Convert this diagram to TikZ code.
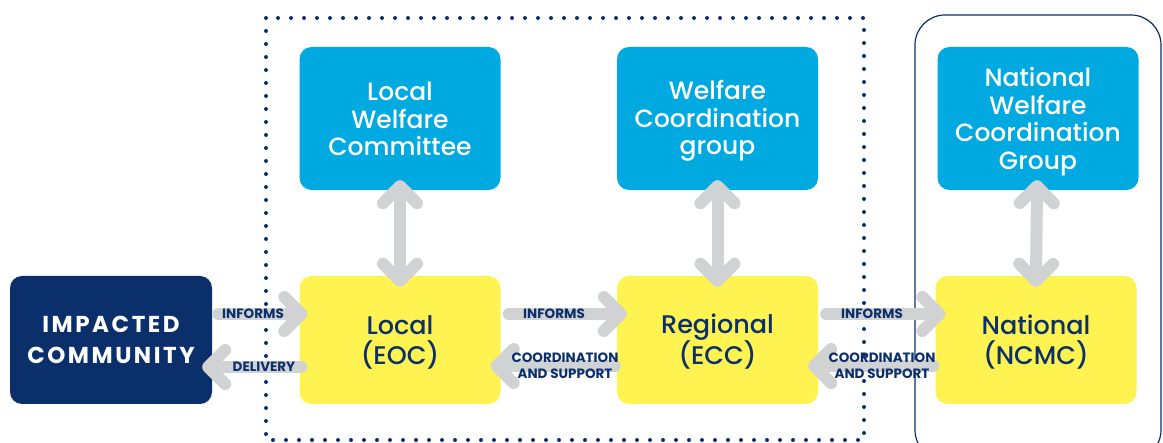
\documentclass[tikz,border=0pt]{standalone}
\usepackage{fontspec}
\setmainfont{Poppins}
\newfontfamily\medfont{Poppins}[UprightFont={* Medium}]
\newfontfamily\wideboldfont{Poppins}[UprightFont={* Bold}, LetterSpace=11]
\usetikzlibrary{arrows.meta,calc}
\definecolor{navy}{HTML}{0A2F6B}
\definecolor{skyb}{HTML}{00A9E0}
\definecolor{yel}{HTML}{FFF352}
\definecolor{gry}{HTML}{D1D2D4}
\tikzset{
  bluebox/.style={rectangle, rounded corners=12pt, fill=skyb, text=white, align=center,
     minimum width=201pt, minimum height=143pt, inner sep=0pt,
     font=\medfont\fontsize{25}{27.5}\selectfont, text height=80pt, text depth=5pt},
  yelbox/.style={rectangle, rounded corners=12pt, fill=yel, text=navy, align=center,
     minimum width=201pt, minimum height=128pt, inner sep=0pt,
     font=\medfont\fontsize{25.5}{30}\selectfont, text height=55pt, text depth=5pt},
  navybox/.style={rectangle, rounded corners=12pt, fill=navy, text=white, align=center,
     minimum width=202pt, minimum height=128pt, inner sep=0pt,
     font=\wideboldfont\fontsize{23}{31}\selectfont, text height=53pt, text depth=5pt},
  tipb/.tip={Straight Barb[length=17pt, width=34pt, round]},
  garrow/.style={draw=gry, line width=12pt, line cap=round, arrows={-tipb}},
  garrow2/.style={draw=gry, line width=12pt, line cap=round, arrows={tipb-tipb}},
  lbl/.style={text=navy, font=\bfseries\fontsize{13.5}{16}\selectfont, align=center, inner sep=0pt},
  dotline/.style={draw=navy, line width=4pt, line cap=round, dash pattern=on 0pt off 13pt},
}
\begin{document}
\begin{tikzpicture}[x=1pt,y=-1pt]
\useasboundingbox (0,0) rectangle (1163,443);
% frames
\draw[dotline] (266,18) rectangle (864,440);
\draw[navy, line width=1.2pt, rounded corners=30pt] (915,15) -- (1161,15) -- (1161,460) -- (915,460) -- cycle;
% boxes
\node[navybox] (imp) at (111,340) {IMPACTED\\COMMUNITY};
\node[bluebox] (lwc) at (400,118.5) {Local\\Welfare\\Committee};
\node[bluebox, text height=78pt] (wcg) at (717.5,118.5) {Welfare\\Coordination\\group};
\node[bluebox, text height=107pt] (nwcg) at (1038,118.5) {National\\Welfare\\Coordination\\Group};
\node[yelbox] (eoc) at (400,340) {Local\\(EOC)};
\node[yelbox] (ecc) at (717.5,340) {Regional\\(ECC)};
\node[yelbox] (ncmc) at (1036,340) {National\\(NCMC)};
% vertical arrows
\draw[garrow2, shorten <=-10pt, shorten >=-11pt] (lwc.south) -- (eoc.north);
\draw[garrow2, shorten <=-10pt, shorten >=-11pt] (wcg.south) -- (ecc.north);
\draw[garrow2, shorten <=-10pt, shorten >=-11pt] ([xshift=-1pt]nwcg.south) -- (ncmc.north);
% horizontal arrows
\draw[garrow, shorten <=6pt, shorten >=-8pt] ([yshift=26pt]imp.east) -- ([yshift=26pt]eoc.west);
\draw[garrow, shorten <=-2pt, shorten >=-10pt] ([yshift=-27pt]eoc.west) -- ([yshift=-27pt]imp.east);
\draw[garrow, shorten <=8pt, shorten >=-10pt] ([yshift=26pt]eoc.east) -- ([yshift=26pt]ecc.west);
\draw[garrow, shorten <=2pt, shorten >=-10pt] ([yshift=-26pt]ecc.west) -- ([yshift=-26pt]eoc.east);
\draw[garrow, shorten <=8pt, shorten >=-10pt] ([yshift=26pt]ecc.east) -- ([yshift=26pt]ncmc.west);
\draw[garrow, shorten <=2pt, shorten >=-10pt] ([yshift=-26pt]ncmc.west) -- ([yshift=-26pt]ecc.east);
% labels
\node[lbl] (l1) at (253,314) {INFORMS};
\node[lbl] (l2) at (264,367) {DELIVERY};
\node[lbl] (l3) at (554,314) {INFORMS};
\node[lbl] (l4) at (565,366) {COORDINATION\\AND SUPPORT};
\node[lbl] (l5) at (872,314) {INFORMS};
\node[lbl] (l6) at (882,366) {COORDINATION\\AND SUPPORT};
\end{tikzpicture}
\end{document}
